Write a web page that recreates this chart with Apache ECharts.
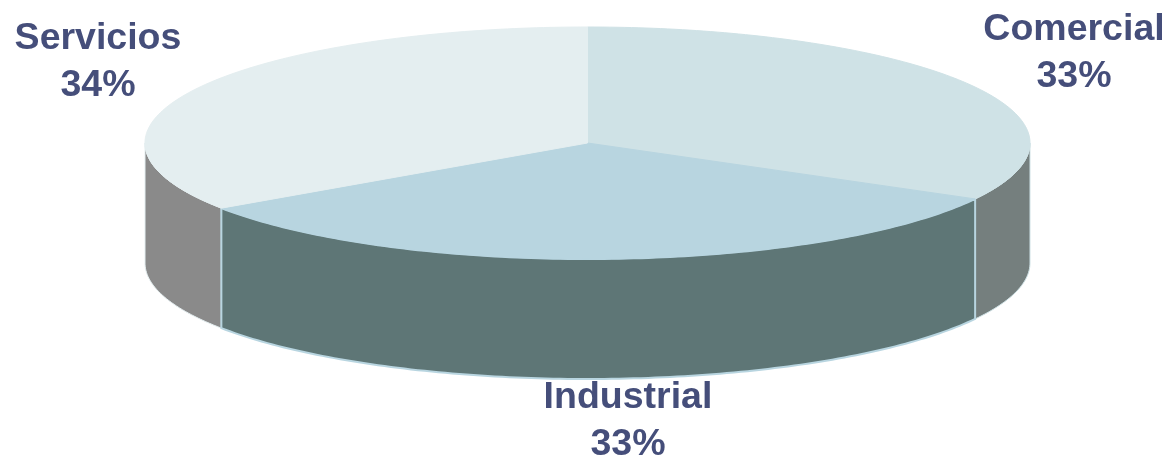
<!DOCTYPE html>
<html>
<head>
<meta charset="utf-8">
<style>
  html, body { margin: 0; padding: 0; background: #fff; }
  #pie3d { width: 1170px; height: 458px; }
</style>
<script src="https://cdn.jsdelivr.net/npm/echarts@6/dist/echarts.min.js"></script>
</head>
<body>
<div id="pie3d"></div>
<script>
// datos
var sectores = ['Comercial', 'Industrial', 'Servicios'];
var valores = [33.01, 32.5, 34.49];

// colores: cara superior y cara lateral
var colorTapa = ['#cfe2e6', '#b8d5e0', '#e4eef0'];
var colorLado = ['#757f7e', '#5e7676', '#8a8a8a'];

// elipse de la tapa y altura del cilindro
var cx = 587.5, cy = 143, rx = 442.5, ry = 116, alto = 120;
// centro de cada etiqueta
var posEtiqueta = [[1074, 53], [628, 421], [98, 62]];

var total = valores.reduce(function (a, b) { return a + b; }, 0);

function punto(ang, dy) {
  return [cx + rx * Math.sin(ang), cy - ry * Math.cos(ang) + (dy || 0)];
}

// puntos del borde entre dos angulos (desde las 12, sentido horario)
function arco(a0, a1, dy) {
  var pts = [], n = Math.max(2, Math.ceil(Math.abs(a1 - a0) * 60));
  for (var i = 0; i <= n; i++) {
    pts.push(punto(a0 + (a1 - a0) * i / n, dy));
  }
  return pts;
}

function renderSector(params, api) {
  var i = params.dataIndex;
  var acum = 0;
  for (var k = 0; k < i; k++) acum += valores[k];
  var a0 = acum / total * Math.PI * 2;
  var a1 = (acum + api.value(0)) / total * Math.PI * 2;
  var hijos = [];

  // lado visible: solo la mitad delantera
  var l0 = Math.max(a0, Math.PI / 2), l1 = Math.min(a1, Math.PI * 1.5);
  if (l1 > l0) {
    var lado = arco(l0, l1, 0).concat(arco(l1, l0, alto));
    hijos.push({
      type: 'polygon',
      z2: i === 1 ? 2 : 1,
      shape: { points: lado },
      style: { fill: colorLado[i], stroke: colorTapa[i], lineWidth: i === 1 ? 2 : 1 }
    });
  }

  // tapa
  hijos.push({
    type: 'polygon',
    z2: 3 + i,
    shape: { points: [[cx, cy]].concat(arco(a0, a1, 0)) },
    style: { fill: colorTapa[i], stroke: colorTapa[i], lineWidth: 1 }
  });

  // etiqueta
  hijos.push({
    type: 'text',
    z2: 10,
    style: {
      x: posEtiqueta[i][0],
      y: posEtiqueta[i][1],
      text: sectores[i] + '\n' + Math.round(api.value(0)) + '%',
      align: 'center',
      verticalAlign: 'middle',
      fill: '#454e7a',
      font: 'bold 37.5px "Liberation Sans", Arial, sans-serif',
      lineHeight: 47
    }
  });

  return { type: 'group', children: hijos };
}

var myChart = echarts.init(document.getElementById('pie3d'));
myChart.setOption({
  animation: false,
  backgroundColor: '#fff',
  series: [{
    type: 'custom',
    coordinateSystem: 'none',
    renderItem: renderSector,
    data: sectores.map(function (s, i) { return { name: s, value: [valores[i]] }; })
  }]
});
</script>
</body>
</html>
